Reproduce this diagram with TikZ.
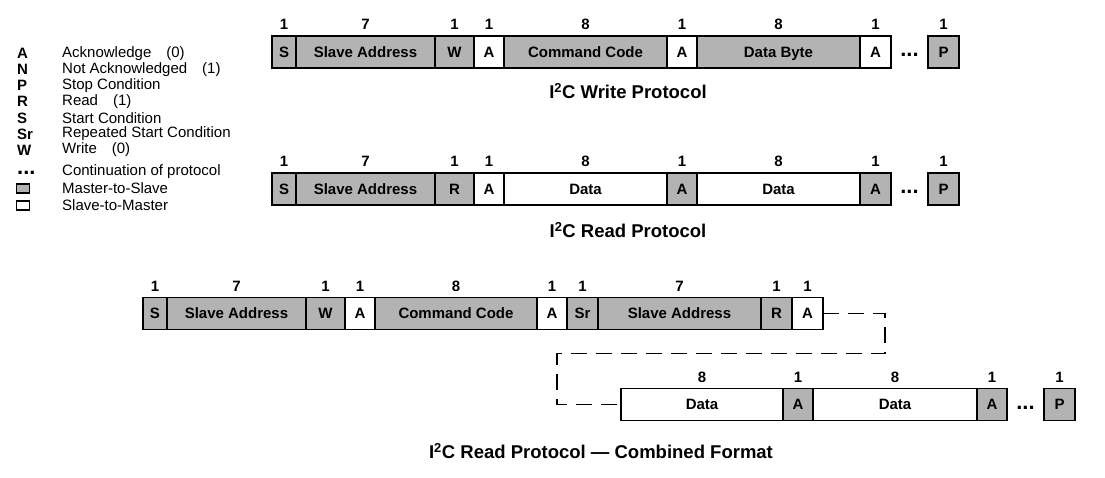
\documentclass[tikz,border=0pt]{standalone}
\usepackage{fontspec}
\setmainfont{Liberation Sans}
\usepackage{xcolor}
\usetikzlibrary{positioning, calc}
\definecolor{msgray}{RGB}{179,179,179}
\newcommand{\boxfont}{\fontsize{15}{17}\selectfont\bfseries}
\newcommand{\legfont}{\fontsize{15}{17}\selectfont}
\newcommand{\ttlfont}{\fontsize{18.5}{20}\selectfont\bfseries}
\newcommand{\dotfont}{\fontsize{22}{22}\selectfont\bfseries}

\begin{document}
\begin{tikzpicture}[
    x=1pt, y=-1pt,
    field/.style={draw=black, line width=1.8pt, minimum height=32, inner sep=0pt, outer sep=0pt, text height=10.7pt, text depth=0pt, font=\boxfont},
    mbox/.style={field, fill=msgray, minimum width=#1},
    sbox/.style={field, fill=white, minimum width=#1},
    gap/.style={minimum width=37, minimum height=32, inner sep=0pt, outer sep=0pt, text height=0pt, text depth=0pt, font=\dotfont},
    bits/.style={label={[font=\boxfont, inner sep=0pt, label distance=6pt]above:#1}},
    ttl/.style={font=\ttlfont, inner sep=0pt},
    legkey/.style={anchor=west, inner sep=0pt, font=\legfont\bfseries},
    legtxt/.style={anchor=west, inner sep=0pt, font=\legfont},
    legbox/.style={draw=black, line width=1.5pt, minimum width=13, minimum height=9, inner sep=0pt},
    dashlink/.style={draw=black, line width=1.5pt, dash pattern=on 16pt off 9pt}
]
\useasboundingbox (0,0) rectangle (1105,478);

% legend
\foreach \k/\t [count=\i] in {A/Acknowledge\quad(0), N/Not Acknowledged\quad(1), P/Stop Condition, R/Read\quad(1), S/Start Condition, Sr/Repeated Start Condition, W/Write\quad(0)}{
  \node[legkey] (key\i) at (17,53.5+16.1*\i-16.1) {\k};
  \node[legtxt] (desc\i) at (62,53.5+16.1*\i-16.1) {\t};
}
\node[legkey, font=\dotfont, text height=0pt, text depth=0pt] (keydots) at (17,172) {\raisebox{-3pt}{...}};
\node[legtxt] (descdots) at (62,171.5) {Continuation of protocol};
\node[legbox, fill=msgray] (keyms) at (23,188.5) {};
\node[legtxt] (descms) at (62,188.5) {Master-to-Slave};
\node[legbox, fill=white] (keysm) at (23,205.5) {};
\node[legtxt] (descsm) at (62,205.5) {Slave-to-Master};

% write protocol
\node[mbox=24, bits=1] (ws) at (284,52) {S};
\node[mbox=139, bits=7, right=0pt of ws] (wsa) {Slave Address};
\node[mbox=39, bits=1, right=0pt of wsa] (ww) {W};
\node[sbox=30, bits=1, right=0pt of ww] (wa1) {A};
\node[mbox=163, bits=8, right=0pt of wa1] (wcc) {Command Code};
\node[sbox=30, bits=1, right=0pt of wcc] (wa2) {A};
\node[mbox=163, bits=8, right=0pt of wa2] (wdb) {Data Byte};
\node[sbox=31, bits=1, right=0pt of wdb] (wa3) {A};
\node[gap, right=0pt of wa3] (wdots) {\raisebox{-4.5pt}{...}};
\node[mbox=31, bits=1, right=0pt of wdots] (wp) {P};
\node[ttl] (wtitle) at (628,91) {I\textsuperscript{2}C Write Protocol};

% read protocol
\node[mbox=24, bits=1] (rs) at (284,189) {S};
\node[mbox=139, bits=7, right=0pt of rs] (rsa) {Slave Address};
\node[mbox=39, bits=1, right=0pt of rsa] (rr) {R};
\node[sbox=30, bits=1, right=0pt of rr] (ra1) {A};
\node[sbox=163, bits=8, right=0pt of ra1] (rd1) {Data};
\node[mbox=30, bits=1, right=0pt of rd1] (ra2) {A};
\node[sbox=163, bits=8, right=0pt of ra2] (rd2) {Data};
\node[mbox=31, bits=1, right=0pt of rd2] (ra3) {A};
\node[gap, right=0pt of ra3] (rdots) {\raisebox{-4.5pt}{...}};
\node[mbox=31, bits=1, right=0pt of rdots] (rp) {P};
\node[ttl] (rtitle) at (628,230) {I\textsuperscript{2}C Read Protocol};

% combined format
\node[mbox=24, bits=1] (cs) at (155,313.5) {S};
\node[mbox=139, bits=7, right=0pt of cs] (csa) {Slave Address};
\node[mbox=39, bits=1, right=0pt of csa] (cw) {W};
\node[sbox=30, bits=1, right=0pt of cw] (ca1) {A};
\node[mbox=162, bits=8, right=0pt of ca1] (ccc) {Command Code};
\node[sbox=30, bits=1, right=0pt of ccc] (ca2) {A};
\node[mbox=31, bits=1, right=0pt of ca2] (csr) {Sr};
\node[mbox=163, bits=7, right=0pt of csr] (csa2) {Slave Address};
\node[mbox=31, bits=1, right=0pt of csa2] (cr) {R};
\node[sbox=31, bits=1, right=0pt of cr] (ca3) {A};

\node[sbox=162, bits=8] (cd1) at (702,404.5) {Data};
\node[mbox=30, bits=1, right=0pt of cd1] (ca4) {A};
\node[sbox=164, bits=8, right=0pt of ca4] (cd2) {Data};
\node[mbox=30, bits=1, right=0pt of cd2] (ca5) {A};
\node[gap, right=0pt of ca5] (cdots) {\raisebox{-4.5pt}{...}};
\node[mbox=31, bits=1, right=0pt of cdots] (cp) {P};
\node[ttl] (ctitle) at (601,451) {I\textsuperscript{2}C Read Protocol --- Combined Format};

\draw[dashlink] (ca3.east) -- ++(62,0) -- ++(0,40) -| ($(cd1.west)+(-64,0)$) -- (cd1.west);

\end{tikzpicture}
\end{document}
